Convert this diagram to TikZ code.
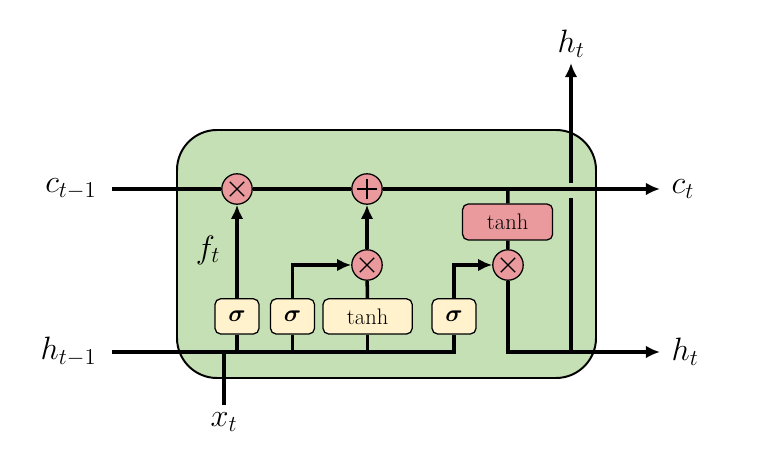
\RequirePackage{fix-cm}
\documentclass[tikz,border=0pt]{standalone}
\usepackage{amsmath,amssymb,bm}
\usepackage{xcolor}
\usepackage{tikz}
\usetikzlibrary{positioning,arrows.meta,calc}
\definecolor{cellcol}{HTML}{C5E0B4}
\definecolor{opcol}{HTML}{EA9A9C}
\definecolor{gatecol}{HTML}{FFF2CC}

\begin{document}
\begin{tikzpicture}[
   gate/.style={draw,line width=0.9pt,rounded corners=4pt,fill=gatecol,
              minimum width=11mm,minimum height=8.8mm,inner sep=0pt,
              font=\fontsize{17}{19}\selectfont},
   wgate/.style={gate,minimum width=22.3mm,font=\fontsize{16}{18}\selectfont},
   rgate/.style={gate,fill=opcol,minimum width=22.5mm,minimum height=9mm,
              font=\fontsize{16}{18}\selectfont},
   op/.style={circle,draw,line width=0.9pt,fill=opcol,minimum size=7.6mm,inner sep=0pt},
   lbl/.style={font=\fontsize{23}{26}\selectfont,inner sep=1pt},
   wire/.style={line width=2.5pt},
   >={Latex[length=10pt,width=9pt]},
   node distance=3.5mm,
]
\useasboundingbox (0,0) rectangle (18.975,11.7);
% ----- cell body
\draw[line width=1.4pt,fill=cellcol,rounded corners=1cm] (4.425,2.25) rectangle (14.9,8.45);

% ----- free ends
\coordinate (cin)  at (2.8,6.975);
\coordinate (cout) at (16.5,6.975);
\coordinate (hin)  at (2.8,2.9);
\coordinate (hout) at (16.5,2.9);
\coordinate (xin)  at (5.6,1.575);
\coordinate (ctap) at (12.7,6.975);
\coordinate (hbot) at (14.275,2.9);
\coordinate (gapb) at (14.275,6.75);
\coordinate (gapt) at (14.275,7.125);
\coordinate (htop) at (14.275,10.125);

% ----- gates
\node[gate]  (fg) at (5.925,3.79)  {$\bm{\sigma}$};
\node[gate]  (ig) at (7.3125,3.79) {$\bm{\sigma}$};
\node[wgate] (cg) at (9.19,3.79)   {tanh};
\node[gate]  (og) at (11.35,3.79)  {$\bm{\sigma}$};

% ----- pointwise ops
\node[op] (fx)  at (5.925,6.975) {};
\node[op] (add) at (9.175,6.975) {};
\node[op] (ix)  at (9.175,5.075) {};
\node[op] (ox)  at (12.7,5.075)  {};
\node[rgate] (ct) at (12.69,6.15) {tanh};

% wires
\draw[wire] (cin) -- (fx);
\draw[wire] (fx) -- (add);
\draw[wire,->] (add) -- (cout);
\draw[wire] (hin) -| (og);
\draw[wire] (fg) -- (fg |- hin);
\draw[wire] (ig) -- (ig |- hin);
\draw[wire] (cg) -- (cg |- hin);
\draw[wire] (xin) -- (xin |- hin);
\draw[wire,->] (fg) -- (fx);
\draw[wire,->] (ig) |- (ix);
\draw[wire] (cg) -- (ix);
\draw[wire,->] (ix) -- (add);
\draw[wire,->] (og) |- (ox);
\draw[wire] (ctap) -- (ct);
\draw[wire] (ct) -- (ox);
\draw[wire,->] (ox) |- (hout);
\draw[wire] (hbot) -- (gapb);
\draw[wire,->] (gapt) -- (htop);

% ----- symbols in the ops
\foreach \n in {fx,ix,ox}{
  \draw[line width=0.9pt] ($(\n)+(-0.18,-0.18)$) -- ($(\n)+(0.18,0.18)$)
                          ($(\n)+(-0.18,0.18)$) -- ($(\n)+(0.18,-0.18)$);
}
\draw[line width=0.9pt] ($(add)+(-0.26,0)$) -- ($(add)+(0.26,0)$)
                        ($(add)+(0,-0.26)$) -- ($(add)+(0,0.26)$);

% ----- labels
\node[lbl,left=of cin]   (clast) {$c_{t-1}$};
\node[lbl,left=of hin]   (hlast) {$h_{t-1}$};
\node[lbl,right=2.5mm of cout] (cnext) {$c_t$};
\node[lbl,right=2.5mm of hout] (hnext) {$h_t$};
\node[lbl,above=1mm of htop]   (hup)   {$h_t$};
\node[lbl,below=1.5mm of xin]  (xcur)  {$x_t$};
\node[lbl] (fl) at (5.2,5.45) {$f_t$};
\end{tikzpicture}
\end{document}
